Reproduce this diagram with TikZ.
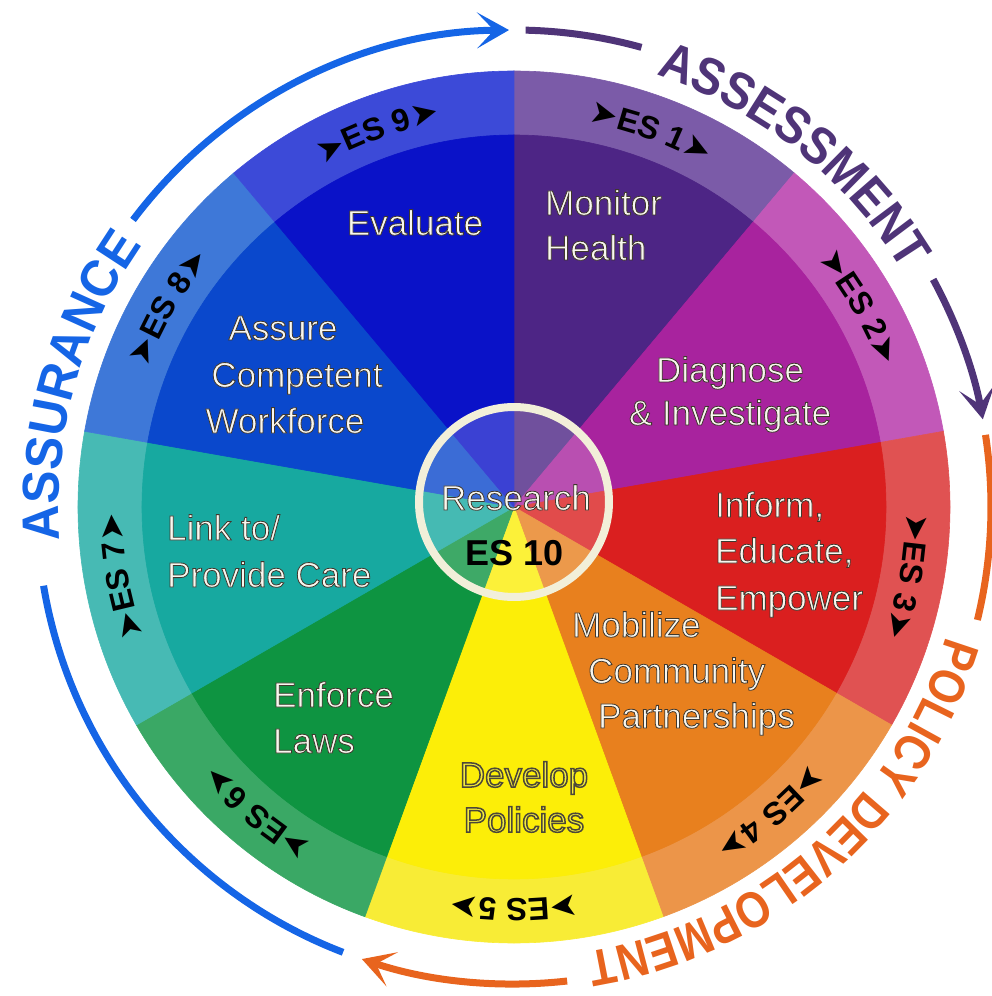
\documentclass[tikz,border=0pt]{standalone}
\usepackage{fontspec}
\setmainfont{Liberation Sans}
\newfontfamily\labfont{Liberation Sans}
\newfontfamily\condA{Liberation Sans}[FakeStretch=0.95]
\newfontfamily\condB{Liberation Sans}[FakeStretch=0.9]
\newfontfamily\condC{Liberation Sans}[FakeStretch=0.85]
\newfontfamily\dejavu{DejaVu Sans}
\usetikzlibrary{decorations.text, arrows.meta}
\definecolor{bA}{HTML}{7B5BA8}\definecolor{iA}{HTML}{4D2585}
\definecolor{bB}{HTML}{C258B8}\definecolor{iB}{HTML}{A8239E}
\definecolor{bC}{HTML}{E05252}\definecolor{iC}{HTML}{DA1F1F}
\definecolor{bD}{HTML}{EC9549}\definecolor{iD}{HTML}{E8801E}
\definecolor{bE}{HTML}{F8EC36}\definecolor{iE}{HTML}{FCEE08}
\definecolor{bF}{HTML}{3AA865}\definecolor{iF}{HTML}{0E9441}
\definecolor{bG}{HTML}{47BAB4}\definecolor{iG}{HTML}{17A9A0}
\definecolor{bH}{HTML}{3E78D8}\definecolor{iH}{HTML}{0A48CC}
\definecolor{bI}{HTML}{3C4AD8}\definecolor{iI}{HTML}{0A12C8}
\definecolor{asblue}{HTML}{1565E6}
\definecolor{aspurple}{HTML}{4F3478}
\definecolor{asorange}{HTML}{E8641E}
\definecolor{cream}{HTML}{F9F7EF}
\definecolor{ringc}{HTML}{F2EFD9}
\definecolor{devfill}{HTML}{F4EC3C}
\newcommand\olt[1]{\special{pdf:code 0.25 0.22 0.18 RG 0.8 w 2 Tr}#1\special{pdf:code 0 Tr}}
\newcommand\olty[1]{\special{pdf:code 0.30 0.28 0.22 RG 1.5 w 2 Tr}#1\special{pdf:code 0 Tr}}
\newcommand\arrowf{\dejavu\fontsize{33}{33}\selectfont}
\newcommand\esf{\labfont\bfseries\fontsize{32}{32}\selectfont}
\newcommand\outA{\condA\bfseries\fontsize{52}{52}\selectfont}
\newcommand\outB{\condB\bfseries\fontsize{52}{52}\selectfont}
\newcommand\outC{\condC\bfseries\fontsize{51}{51}\selectfont}
\begin{document}
\begin{tikzpicture}[x=1pt,y=1pt,
  seglab/.style={font=\labfont\fontsize{35}{35}\selectfont, text=cream, inner sep=0pt},
  outarc/.style={line width=7pt},
  tipst/.style={-{Stealth[length=32pt,width=36pt,inset=17pt]}}]
\useasboundingbox (-514,-489) rectangle (478,507);
% outer arcs
\draw[outarc, asblue] (249:477) arc[start angle=249, end angle=189.5, radius=477];
\draw[outarc, asblue, tipst] (143:477) arc[start angle=143, end angle=90.6, radius=477];
\draw[outarc, aspurple] (88.6:477) arc[start angle=88.6, end angle=74.5, radius=477];
\draw[outarc, aspurple, tipst] (28.5:477) arc[start angle=28.5, end angle=10.6, radius=477];
\draw[outarc, asorange] (8.7:477) arc[start angle=8.7, end angle=-13.7, radius=477];
\draw[outarc, asorange, tipst] (-83.6:477) arc[start angle=-83.6, end angle=-108.6, radius=477];
% outer texts
\path[decorate, decoration={text along path, text align=center, text={|\outA\color{asblue}|ASSURANCE}}]
  (194.5:455) arc[start angle=194.5, end angle=134.5, radius=455];
\path[decorate, decoration={text along path, text align=center, text={|\outB\color{aspurple}|ASSESSMENT}}]
  (81.5:455) arc[start angle=81.5, end angle=21.5, radius=455];
\path[decorate, decoration={text along path, text align=center, text={|\outC\color{asorange}|POLICY DEVELOPMENT}}]
  (-3.7:451) arc[start angle=-3.7, end angle=-93.7, radius=451];
% segments
\foreach \k/\bc/\ic in {1/bA/iA,2/bB/iB,3/bC/iC,4/bD/iD,5/bE/iE,6/bF/iF,7/bG/iG,8/bH/iH,9/bI/iI}{
  \pgfmathsetmacro\sa{90-40*(\k-1)}
  \pgfmathsetmacro\sb{\sa-40}
  \fill[\bc, draw=\bc, line width=0.6pt] (0,0) -- (\sa:436) arc[start angle=\sa, end angle=\sb, radius=436] -- cycle;
}
\foreach \k/\bc/\ic in {1/bA/iA,2/bB/iB,3/bC/iC,4/bD/iD,5/bE/iE,6/bF/iF,7/bG/iG,8/bH/iH,9/bI/iI}{
  \pgfmathsetmacro\sa{90-40*(\k-1)}
  \pgfmathsetmacro\sb{\sa-40}
  \fill[\ic, draw=\ic, line width=0.6pt] (0,0) -- (\sa:372) arc[start angle=\sa, end angle=\sb, radius=372] -- cycle;
}
% ES labels
\foreach \k in {1,...,9}{
  \pgfmathsetmacro\ma{70-40*(\k-1)+35}
  \pgfmathsetmacro\mb{70-40*(\k-1)-35}
  \edef\temp{\noexpand\path[decorate, decoration={text along path, text align=center,
     text={|\noexpand\arrowf|➤|\noexpand\esf|ES \k|\noexpand\arrowf|➤}}]
     (\ma:392) arc[start angle=\ma, end angle=\mb, radius=392];}
  \temp
}
% hub
\node[circle, minimum size=190pt, inner sep=0pt, draw=ringc, line width=8pt, fill=white, fill opacity=0.2] (hub) at (0,5) {};
% segment texts
\node[seglab, anchor=base] (evaluate) at (-99,272) {\olt{Evaluate}};
\node[seglab, anchor=base west] (monitor) at (31,292) {\olt{Monitor}};
\node[seglab, anchor=base west] (health) at (31,247) {\olt{Health}};
\node[seglab, anchor=base] (diagnose) at (216,125) {\olt{Diagnose}};
\node[seglab, anchor=base] (investigate) at (216,82) {\olt{\& Investigate}};
\node[seglab, anchor=base west] (inform) at (201,-10) {\olt{Inform,}};
\node[seglab, anchor=base west] (educate) at (201,-56) {\olt{Educate,}};
\node[seglab, anchor=base west] (empower) at (201,-103) {\olt{Empower}};
\node[seglab, anchor=base west] (mobilize) at (58,-130) {\olt{Mobilize}};
\node[seglab, anchor=base west] (community) at (74,-176) {\olt{Community}};
\node[seglab, anchor=base west] (partnerships) at (84,-221) {\olt{Partnerships}};
\node[seglab, text=devfill, anchor=base] (develop) at (10,-280) {\olty{Develop}};
\node[seglab, text=devfill, anchor=base] (policies) at (10,-325) {\olty{Policies}};
\node[seglab, anchor=base west] (enforce) at (-241,-200) {\olt{Enforce}};
\node[seglab, anchor=base west] (laws) at (-241,-246) {\olt{Laws}};
\node[seglab, anchor=base west] (linkto) at (-347,-33) {\olt{Link to/}};
\node[seglab, anchor=base west] (provide) at (-347,-80) {\olt{Provide Care}};
\node[seglab, anchor=base] (assure) at (-231,167) {\olt{Assure}};
\node[seglab, anchor=base] (competent) at (-217,120) {\olt{Competent}};
\node[seglab, anchor=base] (workforce) at (-229,74) {\olt{Workforce}};
\node[seglab, anchor=base] (research) at (2,-3) {\olt{Research}};
\node[inner sep=0pt, anchor=base, font=\labfont\bfseries\fontsize{36}{36}\selectfont, text=black] (es10) at (1,-58) {ES 10};
\end{tikzpicture}
\end{document}
